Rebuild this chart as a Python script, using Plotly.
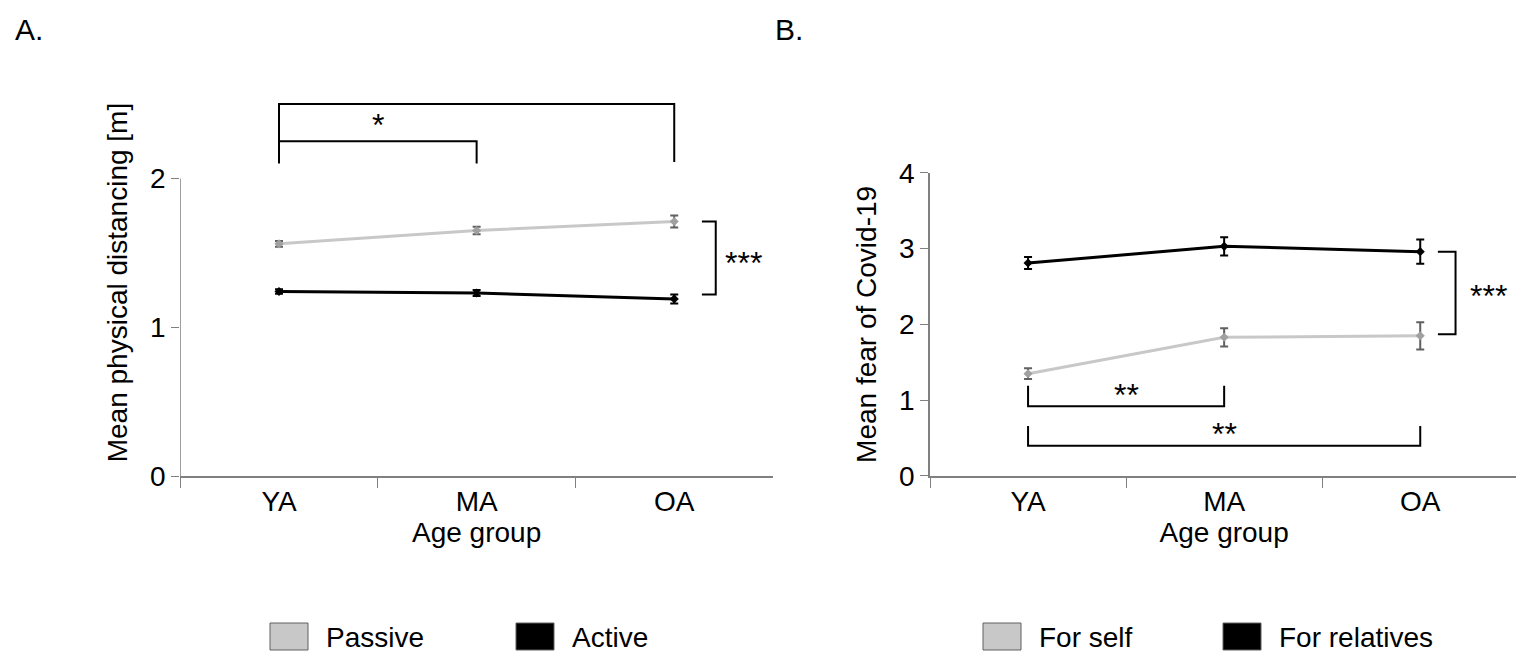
import plotly.graph_objects as go

groups = ["YA", "MA", "OA"]

# Panel A: physical distancing [m]
passive = [1.56, 1.65, 1.71]
passive_err = [0.02, 0.025, 0.04]
active = [1.24, 1.23, 1.19]
active_err = [0.015, 0.02, 0.03]

# Panel B: fear of Covid-19
fear_self = [1.35, 1.83, 1.85]
fear_self_err = [0.07, 0.12, 0.18]
fear_rel = [2.81, 3.03, 2.96]
fear_rel_err = [0.08, 0.12, 0.16]

FONT = "Liberation Sans, Arial, sans-serif"
LIGHT = "#c8c8c8"

fig = go.Figure()

def add_series(x_ax, y_ax, y, err, line_col, mark_col, err_col):
    fig.add_trace(go.Scatter(
        x=groups, y=y, xaxis=x_ax, yaxis=y_ax, mode="lines+markers",
        line=dict(color=line_col, width=3),
        marker=dict(symbol="diamond", size=7, color=mark_col),
        error_y=dict(type="data", array=err, color=err_col, thickness=2, width=4),
        showlegend=False))

add_series("x", "y", passive, passive_err, LIGHT, "#a0a0a0", "#606060")
add_series("x", "y", active, active_err, "black", "black", "black")
add_series("x2", "y2", fear_self, fear_self_err, LIGHT, "#a0a0a0", "#606060")
add_series("x2", "y2", fear_rel, fear_rel_err, "black", "black", "black")

axis_font = dict(family=FONT, size=28, color="black")
xcommon = dict(type="category", range=[-0.5, 2.5], showline=True, linecolor="#808080",
               linewidth=1.5, ticks="outside", tickson="boundaries", ticklen=10,
               tickcolor="#808080", showgrid=False, tickfont=axis_font, automargin=False,
               title=dict(text="Age group", font=axis_font, standoff=6), zeroline=False)

fig.update_layout(
    width=1524, height=654, plot_bgcolor="white", paper_bgcolor="white",
    margin=dict(l=0, r=0, t=0, b=0, autoexpand=False),
    xaxis=dict(domain=[0.113, 0.502], anchor="y", **xcommon),
    yaxis=dict(domain=[0.2844, 0.876], range=[0, 2.6], tickvals=[0, 1, 2],
               showline=False, ticks="outside", ticklen=8, tickcolor="#808080",
               showgrid=False, zeroline=False, tickfont=axis_font, automargin=False,
               title=dict(text="Mean physical distancing [m]", font=axis_font, standoff=14)),
    xaxis2=dict(domain=[0.605, 0.991], anchor="y2", **xcommon),
    yaxis2=dict(domain=[0.2844, 0.748], range=[0, 4], tickvals=[0, 1, 2, 3, 4],
                anchor="x2", showline=True, linecolor="#808080", linewidth=1.5,
                ticks="outside", ticklen=8, tickcolor="#808080", automargin=False,
                showgrid=False, zeroline=False, tickfont=axis_font,
                title=dict(text="Mean fear of Covid-19", font=axis_font, standoff=14)),
)

line = dict(color="black", width=2)
# y-axis line of panel A, only up to 2
fig.add_shape(type="line", xref="x", yref="y", x0=-0.5, x1=-0.5, y0=0, y1=2,
              line=dict(color="#808080", width=1.5))

def bracket_h(xr, yr, x0, x1, y, tip):
    fig.add_shape(type="path", xref=xr, yref=yr,
                  path=f"M {x0},{tip} L {x0},{y} L {x1},{y} L {x1},{tip}", line=line)

def bracket_v(xr, yr, x, xo, y0, y1):
    fig.add_shape(type="path", xref=xr, yref=yr,
                  path=f"M {x},{y0} L {xo},{y0} L {xo},{y1} L {x},{y1}", line=line)

star_font = dict(family=FONT, size=32, color="black")
def star(xr, yr, x, y, t):
    fig.add_annotation(xref=xr, yref=yr, x=x, y=y, text=t, showarrow=False, font=star_font)

bracket_h("x", "y", 0, 1, 2.25, 2.10)
star("x", "y", 0.5, 2.36, "*")
bracket_h("x", "y", 0, 2, 2.50, 2.11)
star("x", "y", 1, 2.61, "**")
bracket_v("x", "y", 2.14, 2.21, 1.71, 1.22)
star("x", "y", 2.35, 1.43, "***")

bracket_h("x2", "y2", 0, 1, 0.92, 1.19)
star("x2", "y2", 0.5, 1.07, "**")
bracket_h("x2", "y2", 0, 2, 0.40, 0.66)
star("x2", "y2", 1, 0.56, "**")
bracket_v("x2", "y2", 2.09, 2.18, 2.96, 1.87)
star("x2", "y2", 2.35, 2.37, "***")

# panel labels
for x, t in [(0.003, "A."), (0.502, "B.")]:
    fig.add_annotation(xref="paper", yref="paper", x=x, y=1 - 22 / 654, text=t,
                       showarrow=False, xanchor="left", yanchor="middle",
                       font=dict(family=FONT, size=30, color="black"))

# legends
legend_items = [(262, LIGHT, "Passive"), (508, "black", "Active"),
                (975, LIGHT, "For self"), (1215, "black", "For relatives")]
for px, col, t in legend_items:
    x0 = px / 1524
    fig.add_shape(type="rect", xref="paper", yref="paper", x0=x0, x1=(px + 38) / 1524,
                  y0=1 - 642 / 654, y1=1 - 615 / 654, fillcolor=col,
                  line=dict(color="#606060", width=1))
    fig.add_annotation(xref="paper", yref="paper", x=(px + 54) / 1524, y=1 - 629 / 654,
                       text=t, showarrow=False, xanchor="left", yanchor="middle",
                       font=axis_font)

fig.write_html("out.html")
